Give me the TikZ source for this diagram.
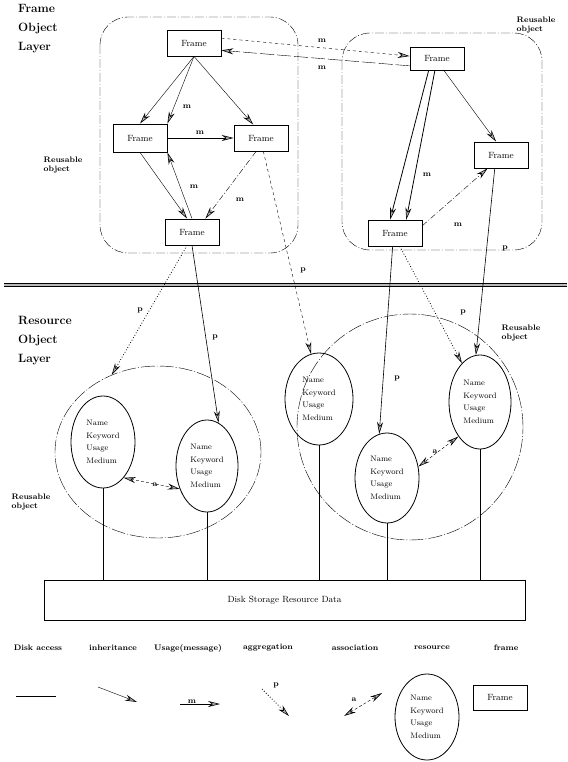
\documentclass[tikz,border=0pt]{standalone}
\usepackage{amsmath,amssymb}
\usepackage{tikz}
\usetikzlibrary{arrows.meta,shapes.geometric}

\newcommand{\restext}{Name\\[3pt]Keyword\\[3pt]Usage\\[3pt]Medium}

\begin{document}
\begin{tikzpicture}[x=1pt,y=-1pt,
    >={Stealth[length=12pt,width=6pt,fill=gray!65,line width=0.6pt]},
    frm/.style={draw,rectangle,thick,minimum width=54pt,minimum height=26pt,font=\small},
    res/.style={draw,ellipse,thick,inner sep=0pt,minimum width=64pt,minimum height=92pt,align=left,font=\footnotesize},
    reuse/.style={dash pattern=on 9pt off 2pt on 1pt off 2pt,rounded corners=28pt},
    bigc/.style={draw,ellipse,thin,dash pattern=on 14pt off 2pt on 1pt off 2pt,inner sep=0pt},
    inh/.style={->,thin},
    use/.style={->,dash pattern=on 6pt off 2pt on 1pt off 2pt},
    agg/.style={->,thick,dotted},
    asc/.style={<->,densely dashed},
    disk/.style={semithick},
    lbl/.style={font=\footnotesize\bfseries,inner sep=1pt},
    ttl/.style={font=\large\bfseries,align=left,anchor=north west,inner sep=0pt},
    note/.style={font=\footnotesize\bfseries,align=left,inner sep=0pt}]
      \useasboundingbox (0,0) rectangle (567,762);

      \node (ttop) at (18,4) [ttl] {Frame\\[5pt]Object\\[5pt]Layer};
      \node (tbot) at (18,316) [ttl] {Resource\\[5pt]Object\\[5pt]Layer};

      \draw[reuse] (100,17) rectangle (298,253);
      \draw[reuse] (342,33) rectangle (542,250);
      \node (nt1) at (536,25) [note] {Reusable\\object};
      \node (nt2) at (63,165) [note] {Reusable\\object};
      \node (nt3) at (521,333) [note] {Reusable\\object};
      \node (nt4) at (31,502) [note] {Reusable\\object};

      \draw[line width=1.4pt,double=gray!55,double distance=1.8pt] (4,285) -- (567,285);

      \node (fa) at (194,43) [frm] {Frame};
      \node (fb) at (140,138) [frm,minimum height=28pt] {Frame};
      \node (fc) at (261,138) [frm] {Frame};
      \node (fd) at (192,232) [frm] {Frame};
      \node (fe) at (437,58.5) [frm,minimum height=23pt] {Frame};
      \node (fg) at (501,155) [frm] {Frame};
      \node (fh) at (395,233) [frm] {Frame};

      \node (lc) at (158,452) [bigc,minimum width=206pt,minimum height=172pt] {};
      \node (rc) at (410,427) [bigc,minimum width=226pt,minimum height=226pt] {};

      \node (r1) at (103,442) [res] {\restext};
      \node (r2) at (207,466) [res,minimum width=62pt] {\restext};
      \node (r3) at (319,399) [res,minimum width=68pt] {\restext};
      \node (r4) at (387,478) [res,minimum height=90pt] {\restext};
      \node (r5) at (480,402) [res,minimum width=62pt,minimum height=94pt] {\restext};

      \node (dk) at (284.5,600) [draw,thick,minimum width=481pt,minimum height=40pt,font=\small] {Disk Storage Resource Data};

      % frame layer
      \draw[->,dashed] (fa.10) -- (fe.175);
      \draw[->,dash pattern=on 14pt off 3pt] (fe.-165) -- (fa.-15);
      \draw[inh] (fa.south) -- (fb.north);
      \draw[inh] (fa.south) -- (fb.north east);
      \draw[inh] (fa.south) -- (fc.120);
      \draw[inh] (fb) -- (fc);
      \draw[inh] (fb.south) -- (fd.110);
      \draw[inh] (fd.north) -- (fb.south east);
      \draw[use] (fc.-110) -- (fd.45);
      \draw[->,thick] (fe.-125) -- (fh.110);
      \draw[->,thick] (fe.-100) -- (fh.50);
      \draw[inh] (fe.-60) -- (fg.110);
      \draw[use] (fh.15) -- (fg.-135);

      % frame to resource
      \draw[->,dashed] (fc.-80) -- (r3.100);
      \draw[agg] (fd.-110) -- (lc.121);
      \draw[->,semithick] (fd.south) -- (r2.75);
      \draw[->,semithick] (fg.-115) -- (r5.95);
      \draw[->,semithick] (fh.-100) -- (r4.100);
      \draw[agg] (fh.-70) -- (r5.115);

      \draw[asc] (r1.-60) -- (r2.-140);
      \draw[asc] (r5.-122) -- (r4.20);

      \foreach \r in {r1,r2,r3,r4,r5}
        \draw[disk] (\r.south) -- (\r.south |- dk.north);

      \node (m1) at (322,41) [lbl] {m};
      \node (m2) at (322,68) [lbl] {m};
      \node (m3) at (187,107) [lbl] {m};
      \node (m4) at (200,133) [lbl] {m};
      \node (m5) at (194,187) [lbl] {m};
      \node (m6) at (240,200) [lbl] {m};
      \node (m7) at (427,175) [lbl] {m};
      \node (m8) at (458,225) [lbl] {m};
      \node (p1) at (140,310) [lbl] {p};
      \node (p2) at (215,337) [lbl] {p};
      \node (p3) at (303,270) [lbl] {p};
      \node (p4) at (505,248) [lbl] {p};
      \node (p5) at (463,312) [lbl] {p};
      \node (p6) at (397,378) [lbl] {p};
      \node (a1) at (155,485) [lbl] {a};
      \node (a2) at (435,452) [lbl] {a};

      % legend
      \node (k1) at (38,648) [note] {Disk access};
      \node (k2) at (113,648) [note] {inheritance};
      \node (k3) at (188,648) [note] {Usage(message)};
      \node (k4) at (268,648) [note] {aggregation};
      \node (k5) at (355,648) [note] {association};
      \node (k6) at (432,648) [note] {resource};
      \node (k7) at (506,648) [note] {frame};

      \coordinate (d1) at (16,696);   \coordinate (d2) at (56,696);
      \coordinate (i1) at (98,687);   \coordinate (i2) at (137,702);
      \coordinate (u1) at (180,704);  \coordinate (u2) at (220,704);
      \coordinate (g1) at (262,689);  \coordinate (g2) at (289,716);
      \coordinate (s1) at (344,716);  \coordinate (s2) at (382,693);
      \draw[disk] (d1) -- (d2);
      \draw[inh] (i1) -- (i2);
      \draw[->] (u1) -- node[lbl,above=-1pt,pos=.3] (lm) {m} (u2);
      \draw[agg] (g1) -- (g2);
      \draw[asc] (s1) -- (s2);
      \node (lp) at (276,685) [lbl] {p};
      \node (la) at (354,700) [lbl] {a};
      \node (lr) at (427,717) [res,minimum height=86pt] {\restext};
      \node (lf) at (500,697.5) [frm,minimum height=25pt] {Frame};
\end{tikzpicture}
\end{document}
